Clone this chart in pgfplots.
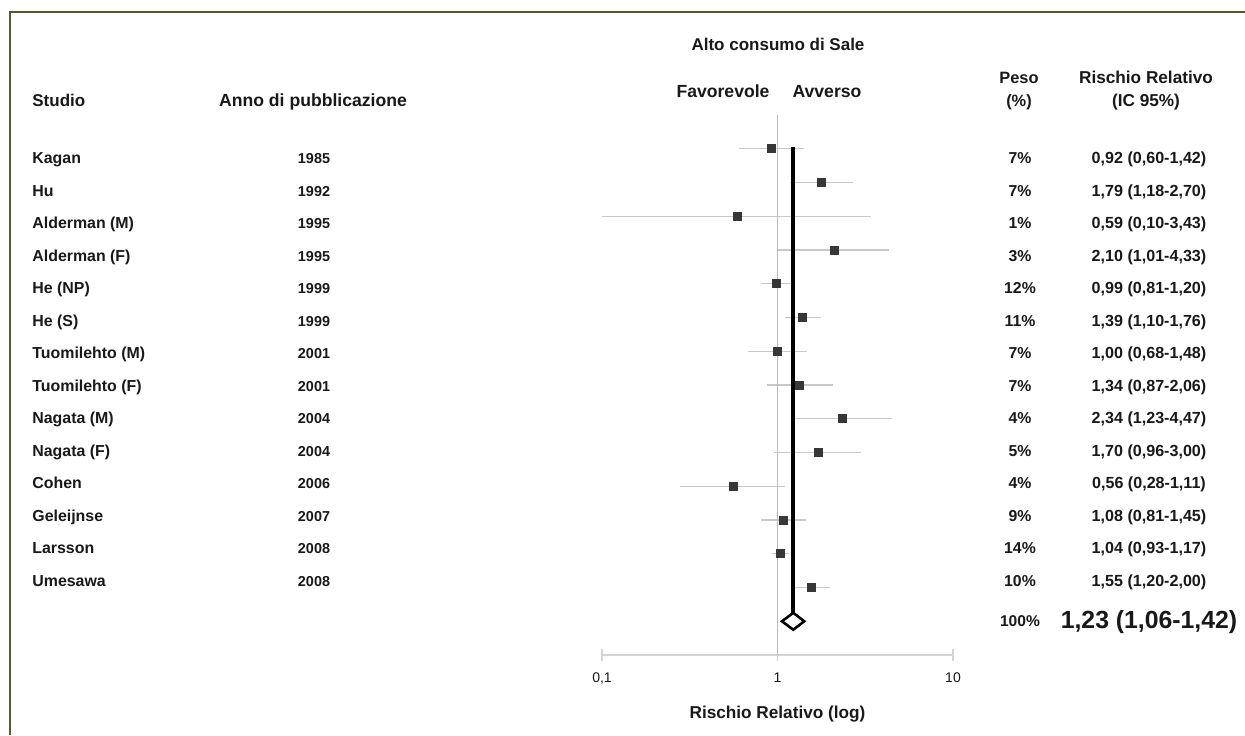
\documentclass[border=0pt]{standalone}
\usepackage{pgfplots}
\pgfplotsset{compat=1.18}
\usepackage{pgfplotstable}
\usepackage{fontspec}
\setmainfont{Liberation Sans}
\definecolor{frameolive}{RGB}{90,88,45}
\definecolor{mk}{RGB}{55,55,55}
\definecolor{cigray}{RGB}{200,200,200}
\definecolor{axisgray}{RGB}{212,212,212}
\definecolor{refgray}{RGB}{185,185,185}
\definecolor{txt}{RGB}{25,25,25}
\newcommand\fs[1]{\fontsize{#1}{#1}\selectfont}

\pgfplotstableread{
row rr lo hi ms
0 0.92 0.60 1.42 2.0
-1 1.79 1.18 2.70 2.0
-2 0.59 0.10 3.43 1.25
-3 2.10 1.01 4.33 1.25
-4 0.99 0.81 1.20 2.0
-5 1.39 1.10 1.76 2.0
-6 1.00 0.68 1.48 2.0
-7 1.34 0.87 2.06 2.0
-8 2.34 1.23 4.47 2.0
-9 1.70 0.96 3.00 2.0
-10 0.56 0.28 1.11 1.25
-11 1.08 0.81 1.45 1.8
-12 1.04 0.93 1.17 1.8
-13 1.55 1.20 2.00 2.0
}\studies

\begin{document}
\begin{tikzpicture}
\begin{scope}[x=0.5pt,y=-0.5pt]
\useasboundingbox (0,0) rectangle (1245,735);
\fill[white] (0,0) rectangle (1245,735);
\draw[frameolive, line width=1.2pt] (10,735) -- (10,12) -- (1245,12);
% headers
\node[anchor=base, inner sep=0pt, text=txt, font=\fs{8.5}\bfseries] at (778,50) {Alto consumo di Sale};
\node[anchor=base, inner sep=0pt, text=txt, font=\fs{8.8}\bfseries] at (723,97.5) {Favorevole};
\node[anchor=base, inner sep=0pt, text=txt, font=\fs{8.8}\bfseries] at (827,97.5) {Avverso};
\node[anchor=base west, inner sep=0pt, text=txt, font=\fs{8.5}\bfseries] at (32,106) {Studio};
\node[anchor=base, inner sep=0pt, text=txt, font=\fs{8.8}\bfseries] at (313,106) {Anno di pubblicazione};
\node[anchor=base, inner sep=0pt, text=txt, font=\fs{8.2}\bfseries] at (1019,83) {Peso};
\node[anchor=base, inner sep=0pt, text=txt, font=\fs{8.2}\bfseries] at (1019,106) {(\%)};
\node[anchor=base, inner sep=0pt, text=txt, font=\fs{8.6}\bfseries] at (1146,83) {Rischio Relativo};
\node[anchor=base, inner sep=0pt, text=txt, font=\fs{8.6}\bfseries] at (1146,106) {(IC 95\%)};
% rows
\foreach \n/\yr/\w/\r [count=\i from 0] in {
  Kagan/1985/7/{0,92 (0,60-1,42)},
  Hu/1992/7/{1,79 (1,18-2,70)},
  Alderman (M)/1995/1/{0,59 (0,10-3,43)},
  Alderman (F)/1995/3/{2,10 (1,01-4,33)},
  He (NP)/1999/12/{0,99 (0,81-1,20)},
  He (S)/1999/11/{1,39 (1,10-1,76)},
  Tuomilehto (M)/2001/7/{1,00 (0,68-1,48)},
  Tuomilehto (F)/2001/7/{1,34 (0,87-2,06)},
  Nagata (M)/2004/4/{2,34 (1,23-4,47)},
  Nagata (F)/2004/5/{1,70 (0,96-3,00)},
  Cohen/2006/4/{0,56 (0,28-1,11)},
  Geleijnse/2007/9/{1,08 (0,81-1,45)},
  Larsson/2008/14/{1,04 (0,93-1,17)},
  Umesawa/2008/10/{1,55 (1,20-2,00)}}{
  \pgfmathsetmacro\yb{163.5+32.5*\i}
  \node[anchor=base west, inner sep=0pt, text=txt, font=\fs{7.95}\bfseries] at (32,\yb) {\n};
  \node[anchor=base, inner sep=0pt, text=txt, font=\fs{7.2}\bfseries] at (314,\yb) {\yr};
  \node[anchor=base, inner sep=0pt, text=txt, font=\fs{7.9}\bfseries] at (1020,\yb) {\w\%};
  \node[anchor=base, inner sep=0pt, text=txt, font=\fs{8.05}\bfseries] at (1149,\yb) {\r};
}
\node[anchor=base, inner sep=0pt, text=txt, font=\fs{7.8}\bfseries] at (1020,626.5) {100\%};
\node[anchor=base, inner sep=0pt, text=txt, font=\fs{12.4}\bfseries] at (1149,628.5) {1,23 (1,06-1,42)};
\end{scope}

\begin{axis}[
  at={(301pt,-327.5pt)}, anchor=south west,
  scale only axis, width=175.5pt, height=270pt,
  xmode=log, xmin=0.1, xmax=10, ymin=-15, ymax=1,
  axis x line=bottom, axis y line=none,
  x axis line style={draw=axisgray, line width=1pt, -},
  xtick={0.1,1,10}, xticklabels={{0,1},1,10},
  minor tick length=0pt,
  major tick length=6pt, tick align=center,
  tick style={draw=axisgray, line width=0.9pt},
  xticklabel style={font=\fs{7}, text=txt, anchor=base, yshift=-10.6pt},
  xlabel={Rischio Relativo (log)},
  xlabel style={font=\fs{8.6}\bfseries, text=txt, at={(axis description cs:0.5,0)}, anchor=base, yshift=-31.5pt},
  clip=false,
]
\addplot[draw=none, mark=none, forget plot,
  error bars/.cd, x dir=both, x explicit, error mark=none,
  error bar style={draw=cigray, line width=0.55pt}]
  table[x=rr, y=row, x error plus expr=\thisrow{hi}-\thisrow{rr}, x error minus expr=\thisrow{rr}-\thisrow{lo}] {\studies};
\addplot[refgray, line width=0.5pt, forget plot] coordinates {(1,-15) (1,1)};
\addplot[scatter, only marks, mark=square*,
  visualization depends on={\thisrow{ms} \as \msize},
  scatter/@pre marker code/.append style={/tikz/mark size=\msize pt},
  scatter/use mapped color={draw=mk, fill=mk}]
  table[x=rr, y=row] {\studies};
\addplot[black, line width=2pt] coordinates {(1.23,0.05) (1.23,-13.75)};
\addplot[black, line width=1.3pt, fill=white, line join=miter] coordinates {(1.06,-14) (1.23,-13.75) (1.42,-14) (1.23,-14.25)} -- cycle;
\end{axis}
\end{tikzpicture}
\end{document}
